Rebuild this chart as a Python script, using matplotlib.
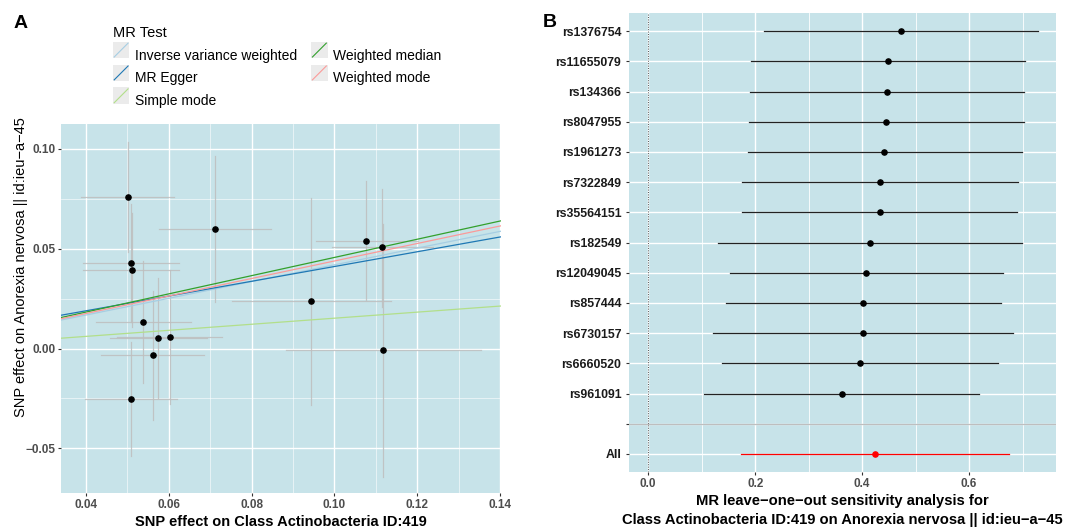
import numpy as np
import matplotlib.pyplot as plt
from matplotlib.lines import Line2D
from matplotlib.patches import Rectangle
from matplotlib.legend_handler import HandlerBase
from matplotlib.ticker import MultipleLocator

plt.rcParams['font.family'] = ['Liberation Sans', 'DejaVu Sans']

# ---- panel A data: SNP effects on exposure (x) and outcome (y) ----
bx = [0.0501, 0.0509, 0.0511, 0.0539, 0.0575, 0.0603, 0.0561, 0.0509,
      0.0712, 0.0944, 0.1075, 0.1114, 0.1118]
by = [0.0760, 0.0428, 0.0395, 0.0132, 0.0052, 0.0057, -0.0033, -0.0253,
      0.0600, 0.0237, 0.0540, 0.0507, -0.0007]
bx_lo = [0.0389, 0.0394, 0.0394, 0.0424, 0.0459, 0.0475, 0.0437, 0.0397,
         0.0577, 0.0752, 0.0955, 0.0994, 0.0884]
bx_hi = [0.0613, 0.0625, 0.0625, 0.0653, 0.0692, 0.0728, 0.0684, 0.0619,
         0.0846, 0.1137, 0.1202, 0.1238, 0.1353]
by_lo = [0.0485, 0.0133, 0.0110, -0.0175, -0.0250, -0.0278, -0.0358, -0.0540,
         0.0233, -0.0283, 0.0242, 0.0208, -0.0642]
by_hi = [0.1033, 0.0723, 0.0680, 0.0437, 0.0355, 0.0395, 0.0290, 0.0033,
         0.0967, 0.0755, 0.0837, 0.0800, 0.0625]

methods = ['Inverse variance weighted', 'MR Egger', 'Simple mode',
           'Weighted median', 'Weighted mode']
slopes = [0.4194, 0.370, 0.152, 0.4565, 0.4387]
intercepts = [0.0, 0.0041, 0.0, 0.0, 0.0]
method_colors = ['#A6CEE3', '#1F78B4', '#B2DF8A', '#33A02C', '#FB9A99']

# ---- panel B data: leave-one-out ----
snps = ['rs1376754', 'rs11655079', 'rs134366', 'rs8047955', 'rs1961273',
        'rs7322849', 'rs35564151', 'rs182549', 'rs12049045', 'rs857444',
        'rs6730157', 'rs6660520', 'rs961091', '', 'All']
loo_b = [0.4718, 0.4474, 0.4460, 0.4437, 0.4412, 0.4330, 0.4330, 0.4143,
         0.4080, 0.4020, 0.4020, 0.3956, 0.3618, np.nan, 0.4237]
loo_lo = [0.2156, 0.1920, 0.1900, 0.1875, 0.1856, 0.1760, 0.1760, 0.1300,
          0.1530, 0.1456, 0.1206, 0.1380, 0.1050, np.nan, 0.1738]
loo_up = [0.7280, 0.7036, 0.7030, 0.7018, 0.6980, 0.6906, 0.6890, 0.6980,
          0.6636, 0.6590, 0.6830, 0.6540, 0.6186, np.nan, 0.6737]

BG = '#C7E3E9'
TICKC = '#4D4D4D'


class DiagHandler(HandlerBase):
    def create_artists(self, legend, orig_handle, xd, yd, width, height, fontsize, trans):
        s = max(width, height)
        y0 = yd - (s - height) / 2
        rect = Rectangle((xd, y0), s, s, facecolor='#EBEBEB', edgecolor='none', transform=trans)
        ln = Line2D([xd + 1, xd + s - 1], [y0 + 1, y0 + s - 1], color=orig_handle.get_color(),
                    lw=0.8, transform=trans)
        return [rect, ln]


fig = plt.figure(figsize=(10.67, 5.30), dpi=100)

# ================= Panel A =================
ax = fig.add_axes([0.0572, 0.0698, 0.4124, 0.6962])
ax.set_facecolor(BG)
ax.set_xlim(0.034, 0.1402)
ax.set_ylim(-0.0724, 0.1125)
ax.xaxis.set_major_locator(MultipleLocator(0.02))
ax.xaxis.set_minor_locator(MultipleLocator(0.01))
ax.yaxis.set_major_locator(MultipleLocator(0.05))
ax.yaxis.set_minor_locator(MultipleLocator(0.025))
ax.grid(True, which='major', color='white', lw=1.0)
ax.grid(True, which='minor', color='white', lw=0.5, alpha=0.8)
ax.set_axisbelow(True)
for s in ax.spines.values():
    s.set_visible(False)

for i in range(len(bx)):
    ax.plot([bx[i], bx[i]], [by_lo[i], by_hi[i]], color='#BEBEBE', lw=0.9, alpha=0.85, zorder=2)
    ax.plot([bx_lo[i], bx_hi[i]], [by[i], by[i]], color='#BEBEBE', lw=0.9, alpha=0.85, zorder=2)
ax.scatter(bx, by, s=14, color='black', zorder=4)

handles = []
for m, b, a, c in zip(methods, slopes, intercepts, method_colors):
    xs = np.array(ax.get_xlim())
    ax.plot(xs, a + b * xs, color=c, lw=0.9, zorder=3)
    handles.append(Line2D([0], [0], color=c, label=m))

ax.set_xticks([0.04, 0.06, 0.08, 0.10, 0.12, 0.14])
ax.set_xticklabels(['0.04', '0.06', '0.08', '0.10', '0.12', '0.14'])
ax.set_yticks([-0.05, 0.0, 0.05, 0.10])
ax.set_yticklabels(['\u22120.05', '0.00', '0.05', '0.10'])
ax.tick_params(which='major', length=2.5, color='#333333', labelsize=8.5, labelcolor=TICKC, pad=1.5)
ax.tick_params(which='minor', length=0)
for t in ax.get_xticklabels() + ax.get_yticklabels():
    t.set_fontweight('bold')
ax.set_xlabel('SNP effect on Class Actinobacteria ID:419', fontsize=10.5, fontweight='bold', labelpad=3)
ax.set_ylabel('SNP effect on Anorexia nervosa || id:ieu\u2212a\u221245', fontsize=10.5)
ax.yaxis.set_label_coords(-0.074, 0.612)

leg = fig.legend(handles=handles, handler_map={Line2D: DiagHandler()}, ncol=2,
                 loc='upper left', bbox_to_anchor=(0.094, 0.975), frameon=False,
                 title='MR Test', fontsize=10, title_fontsize=10.5,
                 handlelength=1.2, handleheight=1.2, handletextpad=0.4,
                 labelspacing=0.58, columnspacing=1.0, alignment='left')

fig.text(0.013, 0.955, 'A', fontsize=14, fontweight='bold', va='center')

# ================= Panel B =================
bx2 = fig.add_axes([0.5895, 0.1094, 0.4002, 0.866])
bx2.set_facecolor(BG)
n = len(snps)
pos = np.arange(n, 0, -1)
bx2.set_xlim(-0.036, 0.7625)
bx2.set_ylim(0.4, n + 0.6)
bx2.xaxis.set_major_locator(MultipleLocator(0.2))
bx2.xaxis.set_minor_locator(MultipleLocator(0.1))
bx2.set_yticks(pos)
bx2.set_yticklabels(snps)
bx2.grid(True, which='major', color='white', lw=1.0)
bx2.grid(True, which='minor', axis='x', color='white', lw=0.6)
bx2.set_axisbelow(True)
for s in bx2.spines.values():
    s.set_visible(False)

bx2.axvline(0, color='#555555', lw=0.7, ls=(0, (1, 1.5)), zorder=2)
bx2.axhline(pos[snps.index('')], color='#BEBEBE', lw=0.9, zorder=2)
for i in range(n):
    if snps[i] == '':
        continue
    c = 'red' if snps[i] == 'All' else '#222222'
    pc = 'red' if snps[i] == 'All' else 'black'
    bx2.plot([loo_lo[i], loo_up[i]], [pos[i], pos[i]], color=c, lw=0.9, zorder=3)
    bx2.scatter([loo_b[i]], [pos[i]], s=14, color=pc, zorder=4)

bx2.set_xticks([0.0, 0.2, 0.4, 0.6])
bx2.set_xticklabels(['0.0', '0.2', '0.4', '0.6'])
bx2.tick_params(axis='x', which='major', length=2.5, color='#333333', labelsize=8.5,
                labelcolor=TICKC, pad=2)
bx2.tick_params(axis='y', length=2.5, color='#333333', labelsize=8.8, labelcolor='#1A1A1A', pad=3)
bx2.tick_params(which='minor', length=0)
for t in bx2.get_xticklabels() + bx2.get_yticklabels():
    t.set_fontweight('bold')
bx2.set_xlabel('MR leave\u2212one\u2212out sensitivity analysis for\n'
               'Class Actinobacteria ID:419 on Anorexia nervosa || id:ieu\u2212a\u221245',
               fontsize=10.6, fontweight='bold', labelpad=3, linespacing=1.45)

fig.text(0.509, 0.958, 'B', fontsize=14, fontweight='bold', va='center')

fig.savefig('out.png', dpi=100)
